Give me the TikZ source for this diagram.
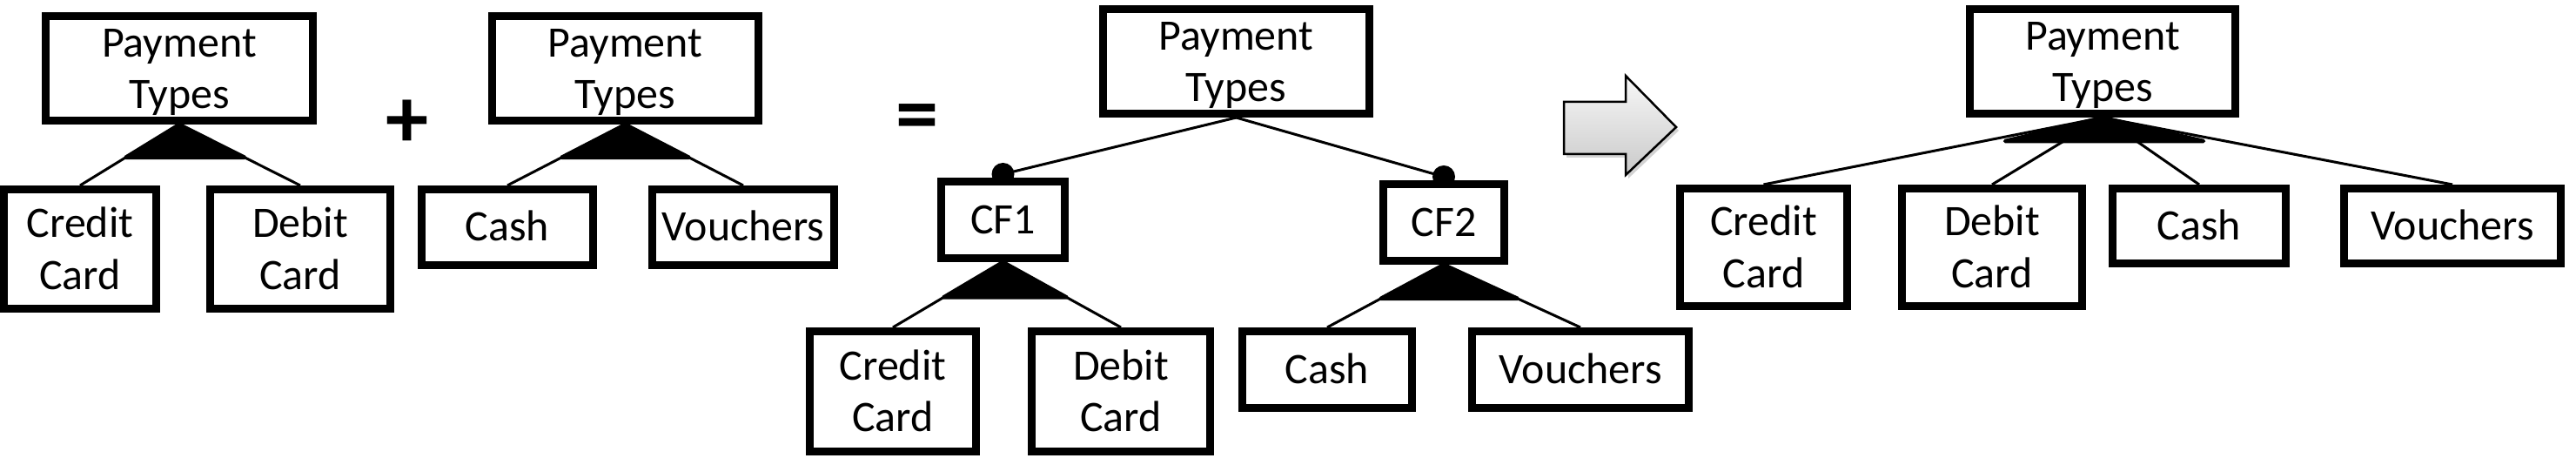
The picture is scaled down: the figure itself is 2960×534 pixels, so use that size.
\documentclass[tikz,border=0pt]{standalone}
\usepackage{fontspec}
\setmainfont{Carlito}
\usetikzlibrary{calc,shadows}
\begin{document}
\begin{tikzpicture}[x=0.01cm,y=-0.01cm,
  fbox/.style={draw, line width=0.09cm, inner sep=0pt, align=center,
    font=\fontsize{14.2}{16.8}\selectfont, text height=0.40cm, text depth=0.09cm},
  fbox2/.style={fbox, text height=1.00cm, text depth=0.08cm},
  conn/.style={line width=0.03cm},
  orgrp/.style={fill=black, draw=black, line width=0.045cm, line join=round},
  mdot/.style={circle, fill=black, inner sep=0pt, minimum size=0.26cm},
  opsign/.style={font=\fontsize{28}{30}\selectfont\bfseries, inner sep=0pt},
  bigarrow/.style={draw=black, line width=0.025cm, top color=gray!6, bottom color=gray!42,
    drop shadow={shadow xshift=0.03cm, shadow yshift=-0.04cm, opacity=0.35}}
]
\useasboundingbox (0,0) rectangle (2960,534);

% first tree
\node[fbox2, minimum width=3.07cm, minimum height=1.20cm] (pt1) at (206,78.5) {Payment\\Types};
\node[fbox2, minimum width=1.75cm, minimum height=1.37cm] (cc1) at (92,286) {Credit\\Card};
\node[fbox2, minimum width=2.07cm, minimum height=1.37cm] (dc1) at (345,286) {Debit\\Card};
\node[opsign] (plus) at (468,142) {+};

% second tree
\node[fbox2, minimum width=3.06cm, minimum height=1.20cm] (pt2) at (718.5,78.5) {Payment\\Types};
\node[fbox, minimum width=1.97cm, minimum height=0.87cm] (ca2) at (583,261) {Cash};
\node[fbox, minimum width=2.09cm, minimum height=0.87cm] (vo2) at (854,261) {Vouchers};
\node[opsign] (eq) at (1054,142) {=};

% composed tree
\node[fbox2, minimum width=3.06cm, minimum height=1.20cm] (pt3) at (1420.5,70.5) {Payment\\Types};
\node[fbox, minimum width=1.42cm, minimum height=0.88cm] (cf1) at (1152.5,252.5) {CF1};
\node[fbox, minimum width=1.39cm, minimum height=0.88cm] (cf2) at (1659,255.5) {CF2};
\node[fbox2, minimum width=1.91cm, minimum height=1.38cm] (cc3) at (1026,449.5) {Credit\\Card};
\node[fbox2, minimum width=2.05cm, minimum height=1.38cm] (dc3) at (1288,449.5) {Debit\\Card};
\node[fbox, minimum width=1.95cm, minimum height=0.88cm] (ca3) at (1525,424.5) {Cash};
\node[fbox, minimum width=2.49cm, minimum height=0.88cm] (vo3) at (1816,424.5) {Vouchers};
\node[mdot] (d1) at ($(cf1.north)+(0,-4)$) {};
\node[mdot] (d2) at ($(cf2.north)+(0,-4)$) {};

% result tree
\node[fbox2, minimum width=3.05cm, minimum height=1.20cm] (pt4) at (2416,70.5) {Payment\\Types};
\node[fbox2, minimum width=1.92cm, minimum height=1.35cm] (cc4) at (2026.5,284) {Credit\\Card};
\node[fbox2, minimum width=2.07cm, minimum height=1.35cm] (dc4) at (2289,284) {Debit\\Card};
\node[fbox, minimum width=1.99cm, minimum height=0.86cm] (ca4) at (2527,259.5) {Cash};
\node[fbox, minimum width=2.49cm, minimum height=0.86cm] (vo4) at (2818,259.5) {Vouchers};

% connectors
\draw[conn] (pt1.south) -- (cc1.north);
\draw[conn] (pt1.south) -- (dc1.north);
\draw[conn] (pt2.south) -- (ca2.north);
\draw[conn] (pt2.south) -- (vo2.north);
\draw[conn] (pt3.south) -- (d1.center);
\draw[conn] (pt3.south) -- (d2.center);
\draw[conn] (cf1.south) -- (cc3.north);
\draw[conn] (cf1.south) -- (dc3.north);
\draw[conn] (cf2.south) -- (ca3.north);
\draw[conn] (cf2.south) -- (vo3.north);
\draw[conn] (pt4.south) -- (cc4.north);
\draw[conn] (pt4.south) -- (dc4.north);
\draw[conn] (pt4.south) -- (ca4.north);
\draw[conn] (pt4.south) -- (vo4.north);

% or-group triangles
\draw[orgrp] (pt1.south) -- ($(pt1.south)!0.54!(cc1.north)$) -- ($(pt1.south)!0.54!(dc1.north)$) -- cycle;
\draw[orgrp] (pt2.south) -- ($(pt2.south)!0.54!(ca2.north)$) -- ($(pt2.south)!0.54!(vo2.north)$) -- cycle;
\draw[orgrp] (cf1.south) -- ($(cf1.south)!0.54!(cc3.north)$) -- ($(cf1.south)!0.54!(dc3.north)$) -- cycle;
\draw[orgrp] (cf2.south) -- ($(cf2.south)!0.54!(ca3.north)$) -- ($(cf2.south)!0.54!(vo3.north)$) -- cycle;
\draw[orgrp] (pt4.south) -- ($(pt4.south)+(-112,27)$) -- ($(pt4.south)+(116,27)$) -- cycle;

% big arrow
\draw[bigarrow] (1797,117) -- (1868,117) -- (1868,87) -- (1926,146) -- (1868,201) -- (1868,177) -- (1797,177) -- cycle;
\end{tikzpicture}
\end{document}
